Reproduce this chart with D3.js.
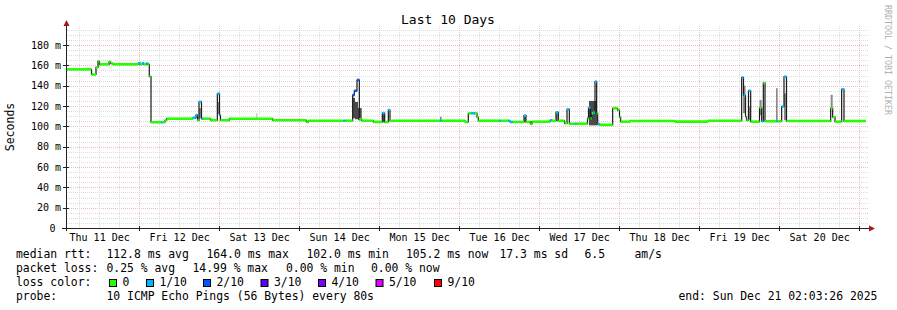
<!DOCTYPE html>
<html lang="en">
<head>
<meta charset="UTF-8" />
<script src="https://d3js.org/d3.v7.min.js"></script>
<style>
  body { margin: 0; background: #fff; }
  svg { display: block; }
  text { font-family: "DejaVu Sans Mono", monospace; fill: #000; }
</style>
<title>Last 10 Days</title>
</head>
<body>
<svg id="chart" width="897" height="310"></svg>
<script>
const startTime = "2025-12-11T02:03:26Z";
const endTime = "2025-12-21T02:03:26Z";

// median rtt as steps: hours since start, median in ms, lost pings (of 10)
const medHours = [0, 7.65, 9.0, 9.6, 10.05, 12.9, 13.35, 14.1, 21.6, 22.2, 22.8, 23.4, 24.15, 24.6, 24.99,
  25.5, 28.5, 28.95, 29.7, 30.2, 38.1, 39.0, 39.45, 39.9, 40.65, 41.2, 43.4, 45.4, 46.05, 46.35, 49.0,
  62.0, 72.1, 72.7, 83.25, 83.85, 86.0, 86.5, 87.3, 88.0, 88.7, 92.2, 94.9, 95.6, 96.7, 97.2,
  112.2, 112.7, 119.7, 120.7, 121.5, 122.7, 123.3, 123.7, 130.05, 130.5, 132.6, 133.2, 134.0,
  137.4, 138.0, 139.35, 139.8, 145.2, 145.8, 147.0, 147.7, 149.55, 150.3, 151.0, 152.7, 153.15,
  156.45, 156.75, 157.35, 157.7, 158.2, 158.7, 159.2, 159.5, 160.2, 164.0, 165.45, 166.05, 166.4,
  169.2, 182.7, 192.6, 202.7, 203.25, 203.85, 204.15, 204.75, 205.4, 208.05, 208.7, 209.2, 209.7,
  213.0, 213.5, 214.7, 215.4, 216.15, 229.4, 230.0, 230.7, 232.7, 233.4];
const medMs = [156, 151, 158, 164, 161, 163.5, 162, 161, 162, 161, 162, 161, 162, 161, 149,
  104, 104, 104, 106, 107.5, 108.5, 111, 106, 124, 107.5, 107.5, 106, 132, 111, 106, 107.5,
  106, 104.3, 105.5, 105.5, 105.5, 130.8, 135, 145.6, 107, 105.5, 104.3, 113, 104.3, 116, 105.5,
  105.5, 105.5, 104.3, 112.8, 112.8, 112.8, 109, 105.5, 105.5, 105.5, 105.5, 104.3, 104.3,
  110.5, 104.3, 102.3, 104.6, 106, 105.5, 113.8, 105.5, 103, 116.7, 102.6, 102.6, 102.6,
  108, 118.3, 108, 112.8, 113.5, 144, 112.8, 102, 101.5, 117.7, 116, 109, 104.6,
  105.3, 104.6, 105.5, 148, 130.5, 109.5, 106, 135, 104.6, 118.3, 105, 142.7, 105,
  105, 105, 119.5, 148.8, 105.2, 117.7, 109, 104.6, 136.5, 105.2];
const medLoss = [0, 0, 0, 0, 0, 0, 0, 0, 1, 0, 1, 0, 1, 0, 0,
  0, 1, 0, 0, 0, 1, 1, 0, 1, 1, 0, 0, 1, 1, 0, 0,
  0, 0, 0, 1, 0, 2, 2, 2, 0, 0, 0, 1, 0, 1, 0,
  1, 0, 0, 0, 1, 0, 0, 0, 1, 0, 1, 1, 0,
  1, 0, 0, 0, 1, 0, 1, 0, 0, 1, 0, 1, 0,
  0, 1, 0, 0, 1, 1, 0, 1, 0, 0, 0, 0, 0,
  0, 0, 0, 1, 1, 0, 0, 1, 0, 0, 1, 0, 0,
  1, 0, 1, 1, 0, 0, 0, 0, 1, 0];

// smoke (spread of the pings) where it shows past the median line
const smokeFrom = [21.9, 57.0, 39.9, 45.4, 86.0, 86.7, 87.6, 94.9, 112.2, 137.4, 147.0, 156.9,
  203.1, 204.75, 208.05, 213.0, 215.4, 229.4];
const smokeTo = [22.5, 57.45, 40.65, 46.05, 86.7, 87.6, 88.7, 95.6, 112.7, 138.0, 147.7, 159.3,
  203.85, 205.4, 208.7, 213.5, 216.15, 230.0];
const smokeLow = [161, 107.5, 108, 112, 108, 107, 106, 104, 105.5, 104, 105, 101,
  113, 106, 111, 105, 106, 118];
const smokeHigh = [164, 113, 118, 124, 128, 124, 118, 113, 109.5, 110, 113, 125,
  140, 119, 126, 137.5, 132.5, 131];
const smokeDensity = [1, 1, 2, 2, 3, 3, 3, 3, 2, 2, 2, 3, 2, 2, 2, 2, 2, 2];

const yTicks = [0, 20, 40, 60, 80, 100, 120, 140, 160, 180];
const lossLabels = ["0", "1/10", "2/10", "3/10", "4/10", "5/10", "9/10"];
const rttStats = ["112.8 ms avg", "164.0 ms max", "102.0 ms min", "105.2 ms now", "17.3 ms sd", "6.5", "am/s"];
const lossStats = ["0.25 % avg", "14.99 % max", "0.00 % min", "0.00 % now"];
const probeText = "10 ICMP Echo Pings (56 Bytes) every 80s";
const endText = "end: Sun Dec 21 02:03:26 2025";

const lossColors = ["#26ff00", "#00b8ff", "#0059ff", "#5e00ff", "#7e00ff", "#dd00ff", "#ff0000"];

const svg = d3.select("#chart");
const t0 = new Date(startTime), t1 = new Date(endTime);
const toDate = (h) => new Date(t0.getTime() + h * 3600e3);

const x = d3.scaleUtc().domain([t0, t1]).range([66, 866]);
const y = d3.scaleLinear().domain([0, 198.7]).range([228, 26]);

// grid
const grid = svg.append("g").attr("shape-rendering", "crispEdges");
d3.range(5, 199, 5).forEach((v) => {
  const major = v % 20 === 0;
  grid.append("line")
    .attr("x1", 67).attr("x2", 868)
    .attr("y1", Math.round(y(v)) + 0.5).attr("y2", Math.round(y(v)) + 0.5)
    .attr("stroke", major ? "#edbcbc" : "#dcdcdc")
    .attr("stroke-dasharray", "1,1");
});
d3.utcHour.every(6).range(t0, t1).forEach((t) => {
  const major = t.getUTCHours() === 0;
  grid.append("line")
    .attr("x1", Math.round(x(t)) + 0.5).attr("x2", Math.round(x(t)) + 0.5)
    .attr("y1", 26).attr("y2", 228)
    .attr("stroke", major ? "#edbcbc" : "#dcdcdc")
    .attr("stroke-dasharray", "1,1");
});

// smoke
const shade = d3.scaleOrdinal().domain([1, 2, 3]).range(["#cccccc", "#8a8a8a", "#4a4a4a"]);
svg.append("g").selectAll("rect")
  .data(smokeFrom.map((f, i) => ({ f, t: smokeTo[i], lo: smokeLow[i], hi: smokeHigh[i], d: smokeDensity[i] })))
  .join("rect")
  .attr("x", (d) => x(toDate(d.f)))
  .attr("width", (d) => x(toDate(d.t)) - x(toDate(d.f)))
  .attr("y", (d) => y(d.hi))
  .attr("height", (d) => y(d.lo) - y(d.hi))
  .attr("fill", (d) => shade(d.d));

// median: black step line, then loss coloured pieces on top
const steps = medHours.map((h, i) => ({ h, v: medMs[i], loss: medLoss[i], end: i + 1 < medHours.length ? medHours[i + 1] : 240 }));
const stepLine = d3.line()
  .curve(d3.curveStepAfter)
  .x((d) => x(toDate(d.h)))
  .y((d) => y(d.v));
svg.append("path")
  .datum(steps.concat([{ h: 240, v: medMs[medMs.length - 1] }]))
  .attr("d", stepLine)
  .attr("fill", "none")
  .attr("stroke", "#1a1a1a")
  .attr("stroke-width", 1.2);

svg.append("g").selectAll("line")
  .data(steps)
  .join("line")
  .attr("x1", (d) => x(toDate(d.h)))
  .attr("x2", (d) => x(toDate(d.end)))
  .attr("y1", (d) => y(d.v))
  .attr("y2", (d) => y(d.v))
  .attr("stroke", (d) => lossColors[d.loss])
  .attr("stroke-width", 2.6);

// axes
const axisG = svg.append("g").attr("shape-rendering", "crispEdges");
axisG.append("line").attr("x1", 66.5).attr("x2", 66.5).attr("y1", 231).attr("y2", 24).attr("stroke", "#222");
axisG.append("line").attr("x1", 62).attr("x2", 869).attr("y1", 228.5).attr("y2", 228.5).attr("stroke", "#222");
yTicks.forEach((v) => {
  axisG.append("line").attr("x1", 63).attr("x2", 69)
    .attr("y1", Math.round(y(v)) + 0.5).attr("y2", Math.round(y(v)) + 0.5).attr("stroke", "#222");
});
d3.utcDay.range(t0, t1).forEach((t) => {
  axisG.append("line")
    .attr("x1", Math.round(x(t)) + 0.5).attr("x2", Math.round(x(t)) + 0.5)
    .attr("y1", 226).attr("y2", 231).attr("stroke", "#222");
});
svg.append("path").attr("d", "M63.5,26 L66.5,20 L69.5,26 Z").attr("fill", "#a01818");
svg.append("path").attr("d", "M869,225.5 L875,228.5 L869,231.5 Z").attr("fill", "#a01818");

svg.append("g").selectAll("text")
  .data(yTicks)
  .join("text")
  .attr("x", (d) => (d === 0 ? 55.5 : 61))
  .attr("y", (d) => y(d) + 3.6)
  .attr("text-anchor", "end")
  .style("font-size", "10px")
  .text((d) => (d === 0 ? "0" : d + " m"));

const fmt = d3.utcFormat("%a %d %b");
svg.append("g").selectAll("text")
  .data(d3.utcDay.range(d3.utcDay.floor(t0), t1).map((d) => d3.utcHour.offset(d, 12)).filter((d) => d > t0 && d < t1))
  .join("text")
  .attr("x", (d) => x(d) + 0.5)
  .attr("y", 241)
  .attr("text-anchor", "middle")
  .style("font-size", "10px")
  .text(fmt);

svg.append("text")
  .attr("x", 448).attr("y", 24)
  .attr("text-anchor", "middle")
  .style("font-size", "13px")
  .text("Last 10 Days");

svg.append("text")
  .attr("transform", "translate(13.5,127) rotate(-90)")
  .attr("text-anchor", "middle")
  .style("font-size", "11.5px")
  .text("Seconds");

svg.append("text")
  .attr("transform", "translate(884.5,5) rotate(90)")
  .style("font-size", "8.3px")
  .style("fill", "#b0b0b0")
  .text("RRDTOOL / TOBI OETIKER");

// legend
const leg = svg.append("g").style("font-size", "11.4px");
const put = (tx, px, py) => leg.append("text").attr("x", px).attr("y", py).text(tx);
put("median rtt:", 16, 258);
[106.5, 206.5, 306.5, 406, 499.5, 584.5, 634.5].forEach((px, i) => put(rttStats[i], px, 258));
put("packet loss:", 16, 272);
[106.5, 192.5, 286, 371].forEach((px, i) => put(lossStats[i], px, 272));
put("loss color:", 16, 286);
[109, 146, 203, 260.5, 318, 375.5, 434].forEach((px, i) => {
  leg.append("rect").attr("x", px + 0.5).attr("y", 279.5).attr("width", 7).attr("height", 7)
    .attr("fill", lossColors[i]).attr("stroke", "#000").attr("stroke-width", 1);
  put(lossLabels[i], px + 13.5, 286);
});
put("probe:", 16, 300);
put(probeText, 106.5, 300);
put(endText, 678.5, 300);
</script>
</body>
</html>
